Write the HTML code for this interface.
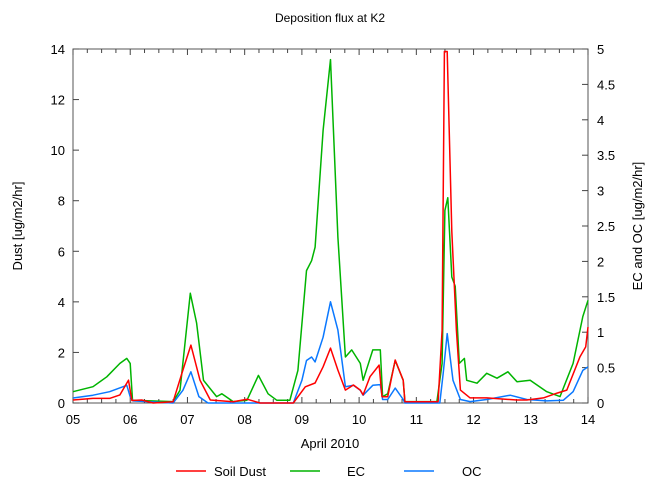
<!DOCTYPE html>
<html><head><meta charset="utf-8"><style>
body{margin:0;background:#fff}
svg{display:block;font-family:"Liberation Sans",Arial,sans-serif}
</style></head><body>
<svg id="chart" width="660" height="497" viewBox="0 0 660 497">
<rect width="660" height="497" fill="#fff"/>
<text x="330" y="22" text-anchor="middle" font-size="12">Deposition flux at K2</text>
<g id="axes"></g>
<g id="series"></g>
<text x="330" y="448" text-anchor="middle" font-size="13">April 2010</text>
<text transform="translate(22,226) rotate(-90)" text-anchor="middle" font-size="13">Dust [ug/m2/hr]</text>
<text transform="translate(642,226) rotate(-90)" text-anchor="middle" font-size="13">EC and OC [ug/m2/hr]</text>
<g>
<g><line x1="176" y1="471" x2="206" y2="471" stroke="#ff0000" stroke-width="1.5"/><text x="214" y="476" font-size="13">Soil Dust</text></g>
<g><line x1="290" y1="471" x2="320" y2="471" stroke="#00b400" stroke-width="1.5"/><text x="347" y="476" font-size="13">EC</text></g>
<g><line x1="404" y1="471" x2="434" y2="471" stroke="#0a78ff" stroke-width="1.5"/><text x="462" y="476" font-size="13">OC</text></g>
</g>
</svg>
<script>
const xTickLabels=["05","06","07","08","09","10","11","12","13","14"];
const leftTicks=[0,2,4,6,8,10,12,14];
const rightTicks=["0","0.5","1","1.5","2","2.5","3","3.5","4","4.5","5"];
const dustT=[0,0.35,0.64,0.82,0.97,1.03,1.2,1.4,1.75,1.92,2.06,2.22,2.4,2.8,3.04,3.27,3.85,4.06,4.23,4.37,4.5,4.63,4.76,4.9,5.02,5.07,5.19,5.35,5.4,5.5,5.63,5.77,5.8,6.38,6.45,6.49,6.54,6.62,6.7,6.77,6.94,7.23,7.76,7.93,8.22,8.46,8.63,8.86,8.96,9];
const dustV=[0.12,0.18,0.18,0.32,0.9,0.1,0.12,0,0.05,1.3,2.29,0.9,0.12,0.05,0.15,0,0,0.64,0.79,1.43,2.17,1.3,0.51,0.71,0.51,0.32,1.04,1.5,0.25,0.25,1.7,0.9,0.05,0.05,2.88,13.9,13.9,6.8,2.88,0.51,0.2,0.2,0.12,0.12,0.2,0.39,0.51,1.83,2.22,3.0];
const ecT=[0,0.35,0.59,0.82,0.94,1.0,1.04,1.75,1.87,2.05,2.16,2.28,2.51,2.6,2.8,3.04,3.24,3.41,3.56,3.79,3.93,4.08,4.17,4.23,4.37,4.5,4.63,4.76,4.87,5.02,5.07,5.24,5.37,5.41,5.5,5.63,5.77,5.8,6.36,6.45,6.5,6.55,6.62,6.68,6.75,6.84,6.88,7.06,7.23,7.41,7.6,7.76,7.99,8.28,8.51,8.74,8.91,9];
const ecV=[0.16,0.23,0.37,0.56,0.63,0.56,0.04,0.02,0.18,1.55,1.13,0.32,0.09,0.13,0.02,0.04,0.39,0.13,0.04,0.04,0.46,1.87,2.01,2.2,3.85,4.85,2.34,0.65,0.75,0.56,0.32,0.75,0.75,0.09,0.13,0.6,0.32,0.02,0.02,0.56,2.72,2.9,1.78,1.65,0.56,0.63,0.32,0.28,0.42,0.35,0.44,0.3,0.32,0.16,0.09,0.56,1.22,1.45];
const ocT=[0,0.35,0.64,0.94,1.0,1.05,1.75,1.92,2.06,2.2,2.36,3.85,4.0,4.08,4.17,4.23,4.37,4.5,4.63,4.76,4.9,5.02,5.07,5.24,5.37,5.41,5.5,5.63,5.77,5.8,6.41,6.47,6.54,6.64,6.77,6.94,7.23,7.64,7.93,8.28,8.57,8.74,8.91,9];
const ocV=[0.07,0.11,0.16,0.25,0.09,0.03,0,0.18,0.44,0.09,0,0,0.32,0.6,0.65,0.58,0.93,1.43,1.03,0.23,0.25,0.18,0.11,0.25,0.26,0.05,0.05,0.21,0.05,0,0,0.42,0.98,0.32,0.05,0.02,0.05,0.11,0.05,0.03,0.04,0.16,0.46,0.51];

const L=73,R=588,T=49,B=403;
const xs=t=>L+t*(R-L)/9;
const yl=v=>B-v*(B-T)/14;
const yr=v=>B-v*(B-T)/5;
const NS="http://www.w3.org/2000/svg";
const axes=document.getElementById('axes');
const ser=document.getElementById('series');
function mk(tag,attrs,parent){const e=document.createElementNS(NS,tag);for(const k in attrs)e.setAttribute(k,attrs[k]);parent.appendChild(e);return e;}

const frame=mk('rect',{x:L,y:T,width:R-L,height:B-T,fill:'none',stroke:'#555','stroke-width':1},axes);


for(let i=0;i<=36;i++){
  const x=xs(i/4);const len=i%4===0?6:4;
  mk('line',{x1:x,y1:B,x2:x,y2:B-len,stroke:'#444'},axes);
  mk('line',{x1:x,y1:T,x2:x,y2:T+len,stroke:'#444'},axes);
}
xTickLabels.forEach((s,i)=>{
  const t=mk('text',{x:xs(i),y:424,'text-anchor':'middle','font-size':13},axes);
  t.textContent=s;
  
  
});
leftTicks.forEach(v=>{
  const y=yl(v);
  mk('line',{x1:L,y1:y,x2:L+6,y2:y,stroke:'#444'},axes);
  const t=mk('text',{x:L-8,y:y+5,'text-anchor':'end','font-size':13},axes);
  t.textContent=v;
  
  
});
rightTicks.forEach(s=>{
  const y=yr(parseFloat(s));
  mk('line',{x1:R,y1:y,x2:R-6,y2:y,stroke:'#444'},axes);
  const t=mk('text',{x:R+9,y:y+5,'text-anchor':'start','font-size':13},axes);
  t.textContent=s;
  
  
});
function line(T_,V_,yf,color,name){
  const d=T_.map((t,i)=>(i?'L':'M')+xs(t).toFixed(1)+','+yf(V_[i]).toFixed(1)).join('');
  const p=mk('path',{d:d,fill:'none',stroke:color,'stroke-width':1.5,'stroke-linejoin':'round'},ser);
  
  
}
line(ecT,ecV,yr,'#00b400','ec-line');
line(ocT,ocV,yr,'#0a78ff','oc-line');
line(dustT,dustV,yl,'#ff0000','soil-dust-line');
</script>
</body></html>
